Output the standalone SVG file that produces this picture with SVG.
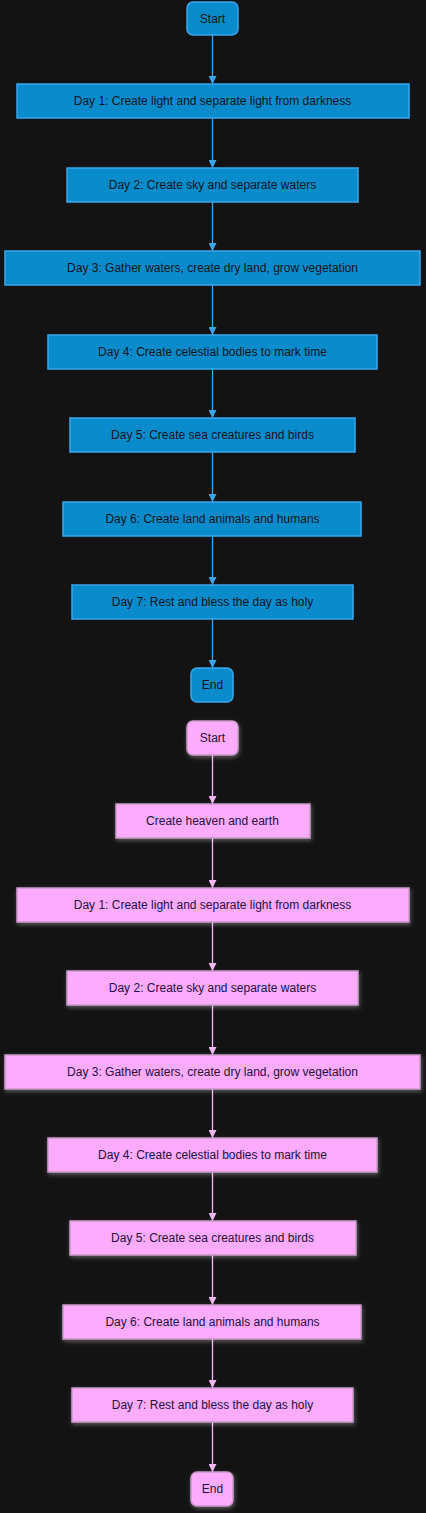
<svg xmlns="http://www.w3.org/2000/svg" width="426" height="1513" viewBox="0 0 426 1513">
<defs>
<style>
.bg{fill:#131313}
.b rect{fill:#0a8bcb;stroke:#3aa6ee;stroke-width:1.5}
.p rect{fill:#fdabfd;stroke:#c998c9;stroke-width:1.5;filter:url(#glow)}
text{font-family:"Liberation Sans",Arial,sans-serif;font-size:12px;text-anchor:middle;dominant-baseline:central}
.b text{fill:#0d1420}
.p text{fill:#1e0f40}
.cb{stroke:#3aa6ee;stroke-width:1.3;fill:none;marker-end:url(#ab)}
.cp{stroke:#f4b6f4;stroke-width:1.3;fill:none;marker-end:url(#ap)}
</style>
<marker id="ab" viewBox="0 0 10 10" refX="10" refY="5" markerWidth="8" markerHeight="8" markerUnits="userSpaceOnUse" orient="auto"><path d="M0,0L10,5L0,10z" fill="#3aa6ee"/></marker>
<marker id="ap" viewBox="0 0 10 10" refX="10" refY="5" markerWidth="8" markerHeight="8" markerUnits="userSpaceOnUse" orient="auto"><path d="M0,0L10,5L0,10z" fill="#f4b6f4"/></marker>
<filter id="glow" x="-20%" y="-40%" width="140%" height="180%"><feDropShadow dx="1" dy="2" stdDeviation="2" flood-color="#ffffff" flood-opacity="0.3"/></filter>
</defs>
<rect class="bg" x="0" y="0" width="426" height="1513"/>
<g id="connectors">
<path class="cb" d="M212.5,35V84"/>
<path class="cb" d="M212.5,118V168"/>
<path class="cb" d="M212.5,202V251"/>
<path class="cb" d="M212.5,285V335"/>
<path class="cb" d="M212.5,369V418"/>
<path class="cb" d="M212.5,452V502"/>
<path class="cb" d="M212.5,536V585"/>
<path class="cb" d="M212.5,619V668"/>
<path class="cp" d="M212.5,755V804"/>
<path class="cp" d="M212.5,838V888"/>
<path class="cp" d="M212.5,922V971"/>
<path class="cp" d="M212.5,1005V1055"/>
<path class="cp" d="M212.5,1089V1138"/>
<path class="cp" d="M212.5,1172V1221"/>
<path class="cp" d="M212.5,1255V1305"/>
<path class="cp" d="M212.5,1339V1388"/>
<path class="cp" d="M212.5,1422V1472"/>
</g>
<g id="b_start" class="b"><rect x="187" y="2" width="51" height="33" rx="6"/><text x="212.5" y="18.5">Start</text></g>
<g id="b_d1" class="b"><rect x="17" y="84" width="392" height="34"/><text x="212.5" y="101">Day 1: Create light and separate light from darkness</text></g>
<g id="b_d2" class="b"><rect x="67" y="168" width="291" height="34"/><text x="212.5" y="185">Day 2: Create sky and separate waters</text></g>
<g id="b_d3" class="b"><rect x="5" y="251" width="415" height="34"/><text x="212.5" y="268">Day 3: Gather waters, create dry land, grow vegetation</text></g>
<g id="b_d4" class="b"><rect x="48" y="335" width="329" height="34"/><text x="212.5" y="352">Day 4: Create celestial bodies to mark time</text></g>
<g id="b_d5" class="b"><rect x="70" y="418" width="285" height="34"/><text x="212.5" y="435">Day 5: Create sea creatures and birds</text></g>
<g id="b_d6" class="b"><rect x="63" y="502" width="298" height="34"/><text x="212.5" y="519">Day 6: Create land animals and humans</text></g>
<g id="b_d7" class="b"><rect x="72" y="585" width="281" height="34"/><text x="212.5" y="602">Day 7: Rest and bless the day as holy</text></g>
<g id="b_end" class="b"><rect x="191" y="668" width="42" height="34" rx="6"/><text x="212.5" y="685">End</text></g>
<g id="p_start" class="p"><rect x="187" y="721" width="51" height="34" rx="6"/><text x="212.5" y="738">Start</text></g>
<g id="p_he" class="p"><rect x="116" y="804" width="194" height="34"/><text x="212.5" y="821">Create heaven and earth</text></g>
<g id="p_d1" class="p"><rect x="17" y="888" width="392" height="34"/><text x="212.5" y="905">Day 1: Create light and separate light from darkness</text></g>
<g id="p_d2" class="p"><rect x="67" y="971" width="291" height="34"/><text x="212.5" y="988">Day 2: Create sky and separate waters</text></g>
<g id="p_d3" class="p"><rect x="5" y="1055" width="415" height="34"/><text x="212.5" y="1072">Day 3: Gather waters, create dry land, grow vegetation</text></g>
<g id="p_d4" class="p"><rect x="48" y="1138" width="329" height="34"/><text x="212.5" y="1155">Day 4: Create celestial bodies to mark time</text></g>
<g id="p_d5" class="p"><rect x="70" y="1221" width="286" height="34"/><text x="212.5" y="1238">Day 5: Create sea creatures and birds</text></g>
<g id="p_d6" class="p"><rect x="63" y="1305" width="298" height="34"/><text x="212.5" y="1322">Day 6: Create land animals and humans</text></g>
<g id="p_d7" class="p"><rect x="72" y="1388" width="281" height="34"/><text x="212.5" y="1405">Day 7: Rest and bless the day as holy</text></g>
<g id="p_end" class="p"><rect x="191" y="1472" width="42" height="34" rx="6"/><text x="212.5" y="1489">End</text></g>
</svg>
